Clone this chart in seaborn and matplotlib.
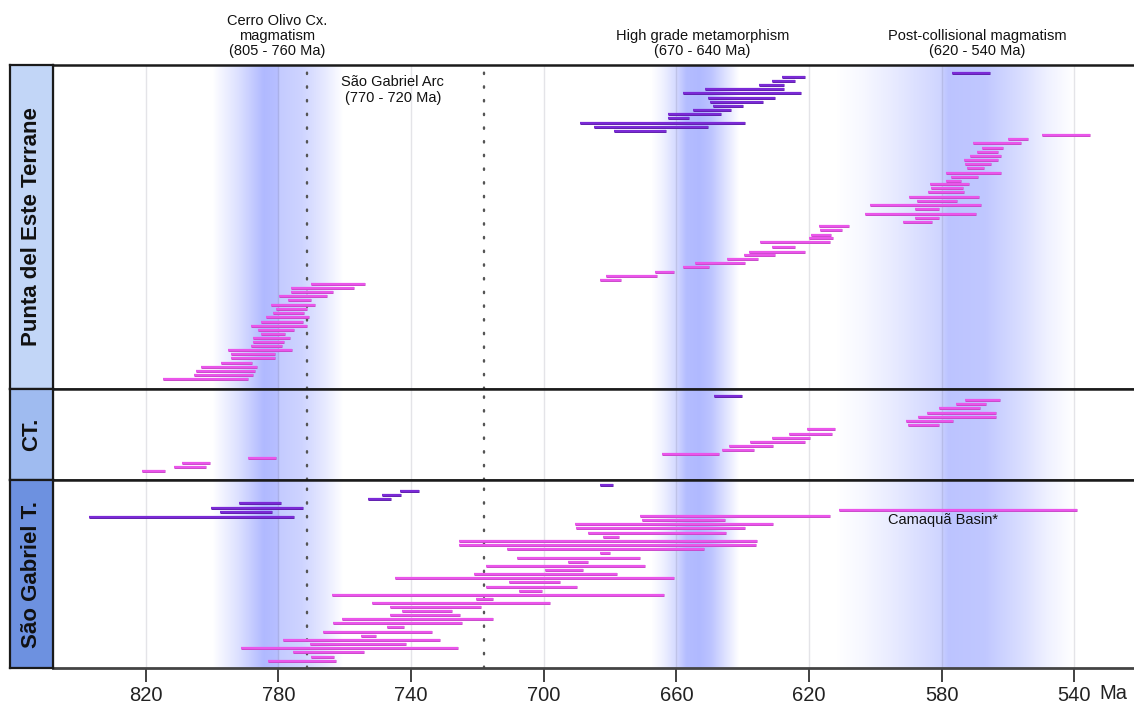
import numpy as np
import pandas as pd
import seaborn as sns
import matplotlib.pyplot as plt
from matplotlib import patheffects as pe
from matplotlib import transforms as mtransforms

# age ranges (start Ma, end Ma, row position inside the panel)
pde_purple = [
    (576.8, 565.3, 8), (628.3, 621.1, 12), (631.2, 624.3, 16), (635.0, 627.7, 20),
    (651.3, 627.7, 24), (658.0, 622.4, 28), (650.6, 630.3, 33), (650.0, 633.8, 37),
    (649.0, 639.9, 41), (655.0, 643.4, 45), (662.4, 646.7, 49), (662.4, 656.2, 53),
    (689.0, 639.3, 58), (685.0, 650.5, 62), (678.7, 663.0, 66),
]
pde_magenta = [
    # post-collisional group
    (549.8, 535.2, 70), (560.0, 554.0, 74), (570.7, 556.2, 78), (567.7, 561.4, 83),
    (569.2, 562.9, 87), (571.4, 562.1, 91), (573.4, 562.9, 95), (573.1, 565.1, 99),
    (572.3, 567.3, 103), (578.7, 562.0, 108), (577.3, 568.9, 112), (578.7, 574.2, 116),
    (583.4, 571.8, 119), (583.2, 573.5, 123), (584.0, 573.2, 127), (590.0, 568.7, 132),
    (587.3, 575.4, 136), (601.6, 568.1, 140), (588.0, 580.7, 144), (603.0, 569.6, 149),
    (588.0, 580.7, 153), (591.8, 583.0, 157),
    # 690-610 Ma group
    (617.0, 607.8, 161), (616.8, 610.0, 165), (619.4, 613.4, 170), (620.0, 612.7, 173),
    (634.9, 613.7, 177), (631.2, 624.3, 182), (638.0, 621.1, 187), (639.6, 630.3, 190),
    (644.8, 635.3, 194), (654.5, 639.2, 198), (657.9, 650.2, 202), (666.5, 660.7, 207),
    (681.3, 665.9, 211), (683.0, 676.6, 215),
    # Cerro Olivo group
    (770.3, 753.8, 219), (776.2, 757.2, 223), (776.2, 763.6, 227), (779.9, 765.4, 231),
    (777.1, 770.2, 235), (782.2, 769.0, 240), (780.9, 771.5, 244), (781.8, 772.4, 248),
    (783.7, 770.8, 252), (785.2, 772.5, 257), (788.2, 771.5, 261), (786.2, 775.3, 265),
    (785.4, 778.1, 269), (787.6, 776.6, 273), (787.7, 778.3, 277), (788.3, 779.0, 281),
    (795.2, 775.9, 285), (794.4, 781.0, 289), (794.4, 781.0, 293), (797.4, 787.9, 298),
    (803.5, 786.4, 302), (804.8, 787.1, 306), (805.4, 787.8, 310), (814.8, 789.3, 314),
]
ct_purple = [(648.7, 640.3, 7)]
ct_magenta = [
    (572.9, 562.4, 11), (575.8, 566.6, 15), (580.9, 568.3, 19), (584.5, 563.7, 24),
    (587.1, 563.6, 28), (590.9, 576.6, 32), (590.2, 580.7, 36),
    (620.5, 612.2, 40), (625.9, 613.0, 45), (631.3, 619.6, 49), (637.8, 621.2, 53),
    (644.0, 630.8, 57), (646.2, 636.5, 61), (664.3, 647.3, 65),
    (789.1, 780.7, 69), (809.2, 800.7, 74), (811.5, 802.0, 78), (821.1, 814.1, 82),
]
sg_purple = [
    (683.0, 679.1, 5), (743.4, 737.5, 11), (748.7, 743.1, 15), (753.1, 746.1, 19),
    (792.0, 779.2, 23), (800.5, 772.7, 28), (797.5, 782.1, 32), (837.2, 775.3, 37),
]
sg_magenta = [
    (611.1, 539.1, 30), (670.9, 613.7, 36), (670.3, 645.2, 40), (690.6, 630.8, 44),
    (690.3, 639.2, 48), (686.7, 645.1, 53), (682.0, 677.2, 57), (725.6, 635.8, 61),
    (725.6, 636.0, 65), (711.1, 651.7, 69), (683.0, 680.0, 73), (708.1, 671.1, 78),
    (692.6, 686.8, 82), (717.3, 669.6, 86), (699.7, 688.2, 90), (721.1, 678.0, 94),
    (744.9, 660.7, 98), (710.5, 695.0, 102), (717.3, 689.9, 107), (707.5, 700.4, 111),
    (763.9, 663.6, 115), (720.3, 715.3, 119), (751.7, 698.0, 123), (746.4, 718.9, 127),
    (742.7, 727.6, 131), (746.4, 725.2, 135), (760.8, 715.3, 139), (763.5, 724.6, 143),
    (747.2, 742.2, 147), (766.5, 733.6, 152), (755.1, 750.6, 156), (778.6, 731.2, 160),
    (770.4, 741.6, 164), (791.3, 725.9, 168), (775.7, 754.2, 172), (770.3, 763.3, 177),
    (783.1, 762.6, 181),
]

panel_names = ["Punta del Este Terrane", "CT.", "São Gabriel T."]
panel_heights = [324, 91, 188]
panel_colors = ["#c2d6f7", "#9fbbf0", "#6d91e0"]

ticks = [820, 780, 740, 700, 660, 620, 580, 540]
dotted_lines = [771.5, 718.0]

# blue event bands: (age, relative intensity) control points
band_profiles = [
    [(760.5, 0.0), (766.0, 0.3), (773.0, 0.62), (779.8, 0.75), (780.2, 0.92), (784.5, 1.0), (792.0, 0.45), (800.0, 0.0)],
    [(641.0, 0.0), (645.0, 0.4), (649.5, 0.85), (653.0, 1.0), (657.0, 0.95), (660.0, 0.55), (664.0, 0.2), (667.5, 0.0)],
    [(540.0, 0.0), (548.0, 0.2), (555.0, 0.45), (567.0, 0.8), (578.0, 0.85), (580.5, 0.6), (595.0, 0.28), (604.0, 0.1), (612.0, 0.0)],
]
band_labels = [
    ("Cerro Olivo Cx.\nmagmatism\n(805 - 760 Ma)", 780.5),
    ("High grade metamorphism\n(670 - 640 Ma)", 652.2),
    ("Post-collisional magmatism\n(620 - 540 Ma)", 569.2),
]

MAGENTA = "#ea55ea"
PURPLE = "#7b2ad6"

sns.set_theme(style="white")
plt.rcParams["font.family"] = ["Liberation Sans", "DejaVu Sans"]

XMIN, XMAX = 848, 522

fig = plt.figure(figsize=(11.34, 7.06), dpi=100)
gs = fig.add_gridspec(3, 1, height_ratios=panel_heights, hspace=0,
                      left=53 / 1134, right=1.0, top=1 - 65 / 706, bottom=1 - 668 / 706)
axes = [fig.add_subplot(gs[i]) for i in range(3)]

xs = np.linspace(XMAX, XMIN, 1200)
alpha = np.zeros_like(xs)
for prof in band_profiles:
    px, py = zip(*prof)
    alpha = np.maximum(alpha, np.interp(xs, px, py, left=0, right=0))
rgba = np.zeros((1, xs.size, 4))
rgba[..., 0] = 0.56
rgba[..., 1] = 0.61
rgba[..., 2] = 1.0
rgba[..., 3] = alpha * 0.7

groups = [(pde_purple, pde_magenta), (ct_purple, ct_magenta), (sg_purple, sg_magenta)]
for ax, h, (purple, magenta) in zip(axes, panel_heights, groups):
    ax.set_xlim(XMIN, XMAX)
    ax.set_ylim(h, 0)
    ax.imshow(rgba, extent=(XMAX, XMIN, h, 0), aspect="auto", zorder=0,
              interpolation="bilinear")
    for t in ticks:
        ax.axvline(t, color=(0.35, 0.35, 0.45, 0.16), lw=1, zorder=1)
    for d in dotted_lines:
        ax.axvline(d, color="#555555", lw=1.7, ls=(0, (0.6, 5.2)),
                   dash_capstyle="round", zorder=2)
    for data, col, edge in [(magenta, MAGENTA, "#c745c7"), (purple, PURPLE, "#5a1aa8")]:
        df = pd.DataFrame(data, columns=["start", "end", "row"])
        lc = ax.hlines(df["row"], df["start"], df["end"], colors=col, lw=1.6, zorder=3)
        lc.set_path_effects([pe.Stroke(linewidth=2.1, foreground=edge), pe.Normal()])
    ax.set_yticks([])
    ax.set_xticks(ticks)
    for s in ["top", "bottom"]:
        ax.spines[s].set_color("#1a1a1a")
        ax.spines[s].set_linewidth(1.8)
    ax.spines["left"].set_color("#1a1a1a")
    ax.spines["left"].set_linewidth(1.5)
    ax.spines["right"].set_visible(False)
    ax.tick_params(axis="x", bottom=False, labelbottom=False)

bottom_ax = axes[-1]
bottom_ax.spines["bottom"].set_color("#444444")
bottom_ax.spines["bottom"].set_linewidth(2)
bottom_ax.tick_params(axis="x", bottom=True, labelbottom=True, direction="out",
                      length=10, width=1.3, color="#333333", labelsize=14.5,
                      labelcolor="#222222", pad=3)
bottom_ax.annotate("Ma", xy=(540, 0), xycoords=("data", "axes fraction"),
                   xytext=(18, -11.6), textcoords="offset points", ha="left", va="top",
                   fontsize=14.5, color="#222222")

# left terrane labels
y_top = 65
for name, h, col in zip(panel_names, panel_heights, panel_colors):
    lab = fig.add_axes([10 / 1134, 1 - (y_top + h) / 706, 43 / 1134, h / 706])
    lab.set_facecolor(col)
    lab.set_xticks([])
    lab.set_yticks([])
    for s in lab.spines.values():
        s.set_color("#1a1a1a")
        s.set_linewidth(1.6)
    lab.text(0.5, 0.5, name, rotation=90, ha="center", va="center",
             fontsize=16, fontweight="bold", color="#111111", transform=lab.transAxes)
    y_top += h

top_ax = axes[0]
trans = mtransforms.blended_transform_factory(top_ax.transData, top_ax.transAxes)
for text, xpos in band_labels:
    top_ax.text(xpos, 1 + 7 / 324, text, transform=trans, ha="center", va="bottom",
                fontsize=10.5, linespacing=1.1, color="#111111")
top_ax.text(745.5, 25, "São Gabriel Arc\n(770 - 720 Ma)", ha="center", va="center",
            fontsize=10.5, linespacing=1.1, color="#111111", zorder=4)
bottom_ax.text(579.5, 40, "Camaquã Basin*", ha="center", va="center",
               fontsize=10.5, color="#111111", zorder=4)

fig.savefig("out.png", dpi=100)
